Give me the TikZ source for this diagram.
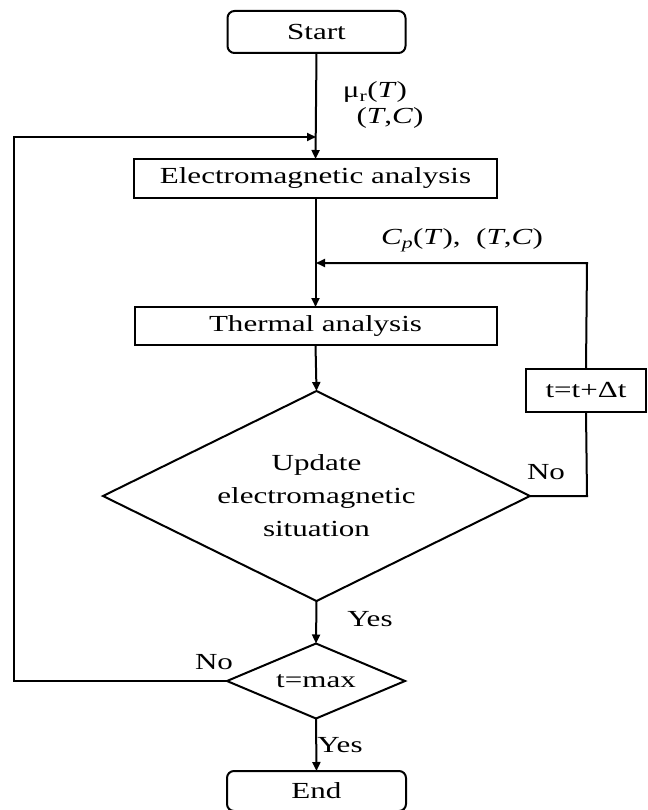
\documentclass[tikz,border=0pt]{standalone}
\usepackage{fontspec}
\setmainfont[FakeStretch=1.35]{Liberation Serif}
\usetikzlibrary{shapes.geometric,arrows.meta}
\begin{document}
\begin{tikzpicture}[x=1pt,y=-1pt,
  every node/.style={font=\fontsize{23}{33}\selectfont, inner sep=0pt, outer sep=0pt},
  box/.style={draw, line width=2pt, align=center},
  rbox/.style={box, rounded corners=7pt},
  dia/.style={draw, line width=2pt, diamond, align=center, aspect=2},
  conn/.style={line width=2pt},
  arr/.style={conn, -{Triangle[length=9pt,width=8pt]}},
  lab/.style={anchor=center}]
\useasboundingbox (0,0) rectangle (647,810);
\node[rbox, minimum width=178pt, minimum height=42pt] (start) at (316.5,32) {Start};
\node[box, minimum width=363pt, minimum height=39pt] (em) at (315.5,178.5) {Electromagnetic analysis};
\node[box, minimum width=362pt, minimum height=38pt] (th) at (315.5,326) {Thermal analysis};
\node[dia, minimum width=427pt, minimum height=210pt] (upd) at (316.5,496) {Update\\electromagnetic\\situation};
\node[box, minimum width=120pt, minimum height=43pt] (dt) at (586,390.5) {t=t+Δt};
\node[dia, minimum width=178pt, minimum height=75pt] (tmax) at (316,681) {t=max};
\node[rbox, minimum width=179pt, minimum height=40pt] (end) at (316.5,791) {End};

\coordinate (jl) at (316,137);
\coordinate (ll) at (14,681);
\coordinate (lu) at (14,137);
\coordinate (jr) at (316,263);
\coordinate (rl) at (587,496);
\coordinate (ru) at (587,263);

\draw[arr] (start.south) -- (em.north);
\draw[arr] (tmax.west) -- (ll) -- (lu) -- (jl);
\draw[arr] (em.south) -- (th.north);
\draw[conn] (upd.east) -- (rl) -- (dt.south);
\draw[arr] (dt.north) -- (ru) -- (jr);
\draw[arr] (th.south) -- (upd.north);
\draw[arr] (upd.south) -- (tmax.north);
\draw[arr] (tmax.south) -- (end.north);

\node[lab] (l1) at (375,92) {μ\textsubscript{r}(\textit{T})};
\node[lab] (l2) at (390,118) {(\textit{T},\textit{C})};
\node[lab] (l3) at (462,240) {\textit{C\textsubscript{p}}(\textit{T}),\ \ (\textit{T},\textit{C})};
\node[lab] (l4) at (370,619) {Yes};
\node[lab] (l5) at (214,662) {No};
\node[lab] (l6) at (340,745) {Yes};
\node[lab] (l7) at (546,472) {No};
\end{tikzpicture}
\end{document}
